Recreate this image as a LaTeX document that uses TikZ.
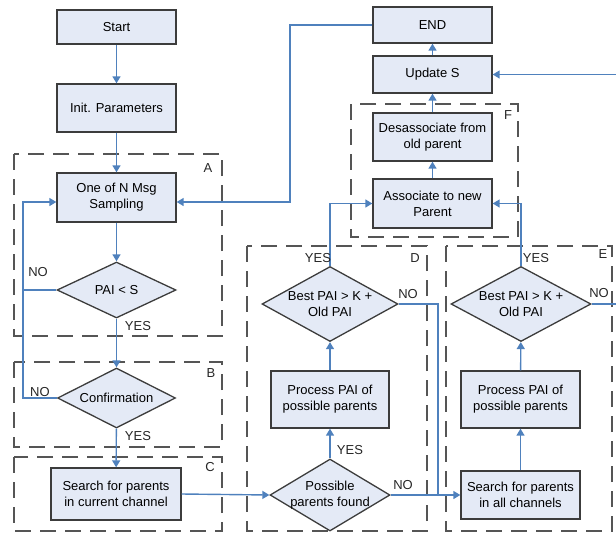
\documentclass[tikz,border=0pt]{standalone}
\usepackage{fontspec}
\setmainfont{Liberation Sans}
\usetikzlibrary{shapes.geometric,arrows.meta}
\definecolor{boxfill}{RGB}{228,234,246}
\definecolor{boxline}{RGB}{60,60,60}
\definecolor{flow}{RGB}{79,129,189}
\definecolor{frame}{RGB}{85,85,85}
\begin{document}
\begin{tikzpicture}[x=1pt,y=-1pt,
  font=\fontsize{13}{16}\selectfont,
  blk/.style={draw=boxline, fill=boxfill, line width=1.3pt, align=center, inner sep=2pt, minimum width=119pt},
  dec/.style={draw=boxline, fill=boxfill, line width=1.3pt, diamond, inner sep=0pt},
  grp/.style={draw=frame, line width=1.3pt, dash pattern=on 16pt off 9pt},
  con/.style={draw=flow, line width=1.4pt},
  arr/.style={con, -{Triangle[length=7pt,width=8pt]}},
  tag/.style={inner sep=0pt, text=black!85}]
\useasboundingbox (0,0) rectangle (616,533);

% dashed groups
\draw[grp] (14,154) rectangle (222,336);
\draw[grp] (14,362) rectangle (222,447);
\draw[grp] (14,457) rectangle (222,531);
\draw[grp] (247,246) rectangle (427,531);
\draw[grp] (446,246) rectangle (612,531);
\draw[grp] (351,104) rectangle (518,237);
\node[tag] (labA) at (208,168) {A};
\node[tag] (labB) at (211,373) {B};
\node[tag] (labC) at (210,467) {C};
\node[tag] (labD) at (415,258) {D};
\node[tag] (labE) at (603,254) {E};
\node[tag] (labF) at (508,115) {F};

% left column
\node[blk, minimum height=34pt] (start) at (116.5,27) {Start};
\node[blk, minimum height=48pt] (init) at (116.5,108) {Init. Parameters};
\node[blk, minimum height=49pt] (samp) at (116.5,197.5) {One of N Msg\\Sampling};
\node[dec, minimum width=119pt, minimum height=56pt,
  label={center:PAI < S}] (pai) at (116.5,290) {};
\node[dec, minimum width=118pt, minimum height=60pt,
  label={center:Confirmation}] (conf) at (116.5,398) {};
\node[blk, minimum width=130pt, minimum height=52pt] (srchC) at (116,494) {Search for parents\\in current channel};

% middle column
\node[dec, minimum width=120pt, minimum height=72pt,
  label={[align=center]center:Possible\\parents found}] (poss) at (330,495) {};
\node[blk, minimum width=118pt, minimum height=57pt] (procD) at (330,399.5) {Process PAI of\\possible parents};
\node[dec, minimum width=136pt, minimum height=75pt,
  label={[align=center]center:Best PAI > K +\\Old PAI}] (bestD) at (330,304) {};

% right column
\node[blk, minimum height=48pt] (srchE) at (520.5,495) {Search for parents\\in all channels};
\node[blk, minimum height=57pt] (procE) at (520.5,399.5) {Process PAI of\\possible parents};
\node[dec, minimum width=140pt, minimum height=75pt,
  label={[align=center]center:Best PAI > K +\\Old PAI}] (bestE) at (521,304) {};

% top
\node[blk, minimum height=49pt] (asc) at (432.5,203.5) {Associate to new\\Parent};
\node[blk, minimum height=48pt] (dis) at (432.5,137) {Desassociate from\\old parent};
\node[blk, minimum height=37pt] (upd) at (432.5,74.5) {Update S};
\node[blk, minimum height=36pt] (endn) at (432.5,25) {END};

\coordinate (lp) at (23,202);
\coordinate (rp) at (290,202);
\coordinate (np) at (438,304);

\draw[arr] (start) -- (init);
\draw[arr] (init) -- (samp);
\draw[arr] (samp) -- (pai);
\draw[arr] (pai) -- (conf);
\draw[arr] (conf) -- (srchC);
\draw[con] (pai.west) -- (pai.west -| lp);
\draw[arr] (conf.west) -| (lp) -- (lp -| samp.west);
\draw[arr] (endn.west) -| (rp) -- (rp -| samp.east);
\draw[arr] (srchC.east) -- (poss.west);
\draw[arr] (poss) -- (procD);
\draw[arr] (procD) -- (bestD);
\draw[arr] (bestD.north) |- (asc.west);
\draw[con] (bestD.east) -- (np) -- (np |- srchE.west);
\draw[arr] (poss.east) -- (srchE.west);
\draw[arr] (srchE) -- (procE);
\draw[arr] (procE) -- (bestE);
\draw[arr] (bestE.north) |- (asc.east);
\draw[arr] (bestE.east) -- ++(40,0) |- (upd.east);
\draw[arr] (asc) -- (dis);
\draw[arr] (dis) -- (upd);
\draw[arr] (upd) -- (endn);

% branch labels
\node[tag] (noA) at (38,272) {NO};
\node[tag] (yesA) at (138,326) {YES};
\node[tag] (noB) at (40,392) {NO};
\node[tag] (yesB) at (138,436) {YES};
\node[tag] (yesD) at (318,258) {YES};
\node[tag] (noD) at (408,294) {NO};
\node[tag] (yesP) at (350,450) {YES};
\node[tag] (noP) at (403,485) {NO};
\node[tag] (yesE) at (536,258) {YES};
\node[tag] (noE) at (599,293) {NO};
\end{tikzpicture}
\end{document}
